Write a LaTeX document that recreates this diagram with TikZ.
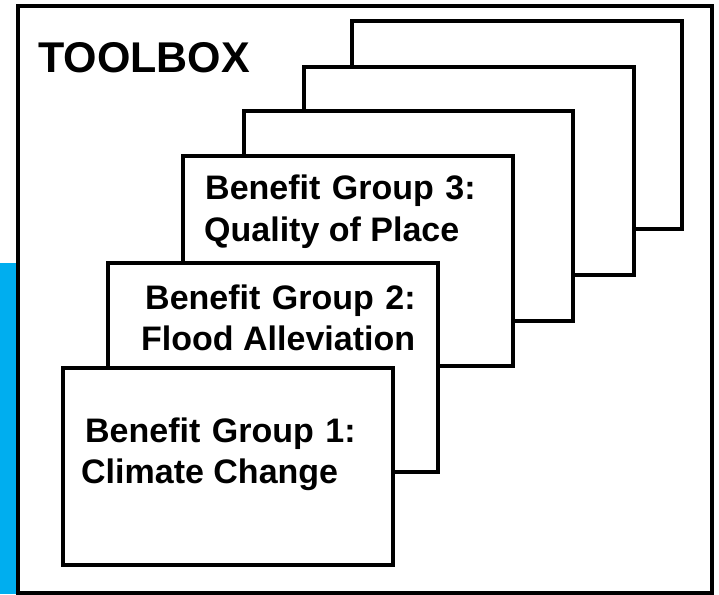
\documentclass[tikz,border=0pt]{standalone}
\usepackage{fontspec}
\setmainfont{Liberation Sans}
\definecolor{sideblue}{HTML}{00AEEF}
\newcommand{\wsp}{\hspace{11.5pt}}
\begin{document}
\begin{tikzpicture}[x=1pt,y=-1pt,
  card/.style={draw=black, fill=white, line width=3.5pt, line join=miter, inner sep=0pt, outer sep=0pt},
  lbl/.style={anchor=base west, inner sep=0pt, font=\bfseries\fontsize{34}{40}\selectfont},
  title/.style={anchor=base west, inner sep=0pt, font=\bfseries\fontsize{43}{50}\selectfont}]
\useasboundingbox (0,0) rectangle (719,594);
\fill[white] (0,0) rectangle (719,594);
% blue side band
\fill[sideblue] (0,263) rectangle (18,594);
% outer toolbox frame
\node[draw=black, line width=4pt, inner sep=0pt, minimum width=694pt, minimum height=587pt] (toolbox) at (365,299.5) {};
\node[title] (tt) at (38,72) {TOOLBOX};
% stacked cards, back to front
\node[card, minimum width=330pt, minimum height=208pt] (c5) at (517,125) {};
\node[card, minimum width=330pt, minimum height=208pt] (c4) at (469,171) {};
\node[card, minimum width=329pt, minimum height=210pt] (c3) at (408.5,216) {};
\node[card, minimum width=330pt, minimum height=210pt] (bg3) at (348,261) {};
\node[card, minimum width=330pt, minimum height=209pt] (bg2) at (273,367.5) {};
\node[card, minimum width=330pt, minimum height=197pt] (bg1) at (228,466.5) {};
% labels
\node[lbl] (t3a) at (205,199) {Benefit\wsp Group\wsp 3:};
\node[lbl] (t3b) at (204,241) {Quality of Place};
\node[lbl] (t2a) at (145,309) {Benefit\wsp Group\wsp 2:};
\node[lbl] (t2b) at (141,350) {Flood Alleviation};
\node[lbl] (t1a) at (85,442) {Benefit\wsp Group\wsp 1:};
\node[lbl] (t1b) at (81,483) {Climate Change};
\end{tikzpicture}
\end{document}
